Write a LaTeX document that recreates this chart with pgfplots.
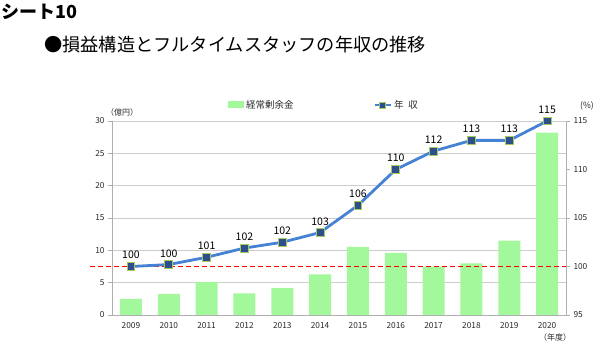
\documentclass[border=0pt]{standalone}
\usepackage{fontspec}
\setmainfont{Noto Sans CJK JP}
\usepackage{pgfplots}
\pgfplotsset{compat=1.18}
\definecolor{barg}{RGB}{164,248,156}
\definecolor{lineb}{RGB}{70,130,212}
\definecolor{mfill}{RGB}{45,80,140}
\definecolor{mdraw}{RGB}{165,200,95}
\definecolor{gridc}{RGB}{205,205,205}
\definecolor{axc}{RGB}{175,175,175}
\definecolor{txt}{RGB}{40,40,40}
\pgfplotsset{
  mylineleg/.style={legend image code/.code={\draw[mark repeat=2,mark phase=2,##1, mark size=3bp] plot coordinates {(0bp,0bp)(8bp,0bp)(16bp,0bp)};}},
  mybarleg/.style={legend image code/.code={\fill[barg] (0bp,-3.5bp) rectangle (16bp,3.5bp);}},
}
\begin{document}
\begin{tikzpicture}
\useasboundingbox (0,0) rectangle (595bp,343bp);
\node[anchor=west,inner sep=0,font=\bfseries\fontsize{18bp}{20bp}\selectfont] at (1bp,331bp) {シート10};
\node[anchor=west,inner sep=0,font=\fontsize{18.2bp}{20bp}\selectfont] at (44bp,298bp) {●損益構造とフルタイムスタッフの年収の推移};
\node[inner sep=0,font=\fontsize{8bp}{9bp}\selectfont,text=txt] at (122bp,231bp) {（億円）};
\node[inner sep=0,font=\fontsize{8.5bp}{9bp}\selectfont,text=txt] at (587bp,237bp) {(\%)};
\node[inner sep=0,font=\fontsize{8bp}{9bp}\selectfont,text=txt] at (555bp,6bp) {（年度）};

\begin{axis}[
  at={(112bp,28bp)}, anchor=south west,
  scale only axis, width=454bp, height=194bp,
  xmin=-0.5, xmax=11.5, ymin=0, ymax=30,
  ytick={0,5,...,30},
  xtick={0,...,11},
  xticklabels={2009,2010,2011,2012,2013,2014,2015,2016,2017,2018,2019,2020},
  axis x line*=bottom, axis y line*=left,
  axis line style={axc, line width=0.8bp, -},
  ymajorgrids, grid style={gridc, line width=0.8bp},
  tick style={axc, line width=0.8bp}, major tick length=4bp, tick align=outside,
  x tick style={draw=none},
  ticklabel style={font=\fontsize{8.3bp}{9bp}\selectfont, text=txt},
  /pgf/number format/assume math mode=true,
  ybar, bar width=22bp,
  legend style={at={(0.2555,1.0825)}, anchor=west, draw=none, fill=none,
    font=\fontsize{9.5bp}{10bp}\selectfont, text=txt, inner sep=0pt},
]
\addplot[fill=barg, draw=none, mybarleg]
  coordinates {(0,2.5) (1,3.25) (2,5.1) (3,3.35) (4,4.2) (5,6.3) (6,10.55) (7,9.6) (8,7.5) (9,8.0) (10,11.5) (11,28.2)};
\addlegendentry{経常剰余金}
\end{axis}

\begin{axis}[
  at={(112bp,28bp)}, anchor=south west,
  scale only axis, width=454bp, height=194bp,
  xmin=-0.5, xmax=11.5, ymin=95, ymax=115,
  ytick={95,100,...,115},
  axis x line=none, axis y line*=right,
  axis line style={axc, line width=0.8bp, -},
  tick style={axc, line width=0.8bp}, major tick length=4bp, tick align=outside,
  ticklabel style={font=\fontsize{8.3bp}{9bp}\selectfont, text=txt},
  /pgf/number format/assume math mode=true,
  clip=false,
  legend style={at={(0.575,1.0825)}, anchor=west, draw=none, fill=none,
    font=\fontsize{9.5bp}{10bp}\selectfont, text=txt, inner sep=0pt},
]
\addplot[red, dash pattern=on 5bp off 3bp, line width=1.8bp, forget plot]
  coordinates {(-1.08,100) (11.5,100)};
\addplot[lineb, line width=2.8bp, mark=square*, mark size=3.9bp,
  mark options={fill=mfill, draw=mdraw, line width=0.8bp, solid},
  mylineleg,
  nodes near coords, point meta=explicit symbolic,
  nodes near coords style={font=\fontsize{10.5bp}{11bp}\selectfont, text=black, anchor=south, inner sep=1bp, yshift=6bp}]
  coordinates {(0,100.0)[100] (1,100.2)[100] (2,100.95)[101] (3,101.9)[102] (4,102.5)[102] (5,103.5)[103]
               (6,106.3)[106] (7,110.0)[110] (8,111.9)[112] (9,113.0)[113] (10,113.0)[113] (11,115.0)[115]};
\addlegendentry{年\hspace{0.5em}収}
\end{axis}
\end{tikzpicture}
\end{document}
